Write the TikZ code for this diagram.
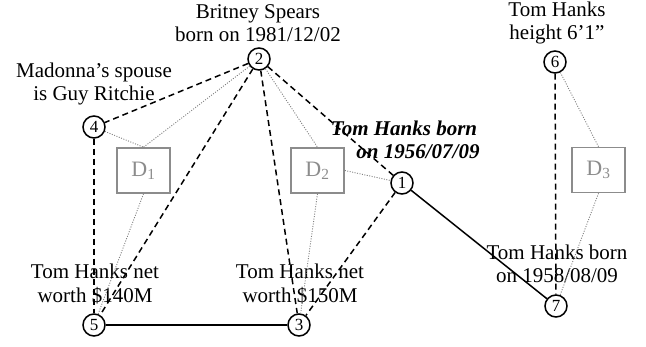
\documentclass[tikz,border=0pt]{standalone}
\usepackage{fontspec}
\setmainfont{Liberation Serif}
\begin{document}
\begin{tikzpicture}[x=1pt,y=-1pt,
  vnode/.style={circle,draw=black,line width=1.5pt,minimum size=22pt,inner sep=0pt,font=\fontsize{17}{17}\selectfont,fill=white},
  dbox/.style={draw=black!45,line width=1.6pt,minimum width=53pt,minimum height=45pt,inner sep=0pt,text=black!45,font=\fontsize{22}{22}\selectfont},
  lbl/.style={align=center,inner sep=0pt,font=\fontsize{21}{23.5}\selectfont},
  dashe/.style={line width=1.5pt,dash pattern=on 6pt off 4pt},
  sol/.style={line width=1.5pt},
  dott/.style={draw=black!50,line width=0.9pt,dash pattern=on 1pt off 1.5pt}]
\useasboundingbox (0,0) rectangle (646,347);
% labels
\node[lbl] (l2) at (258,23) {Britney Spears\\born on 1981/12/02};
\node[lbl] (l4) at (94,84) {Madonna’s spouse\\is Guy Ritchie};
\node[lbl] (l6) at (557,23) {Tom Hanks\\height 6’1”};
\node[lbl,font=\fontsize{21}{23.5}\selectfont\bfseries\itshape] (l1a) at (404,128) {Tom Hanks born};
\node[lbl,font=\fontsize{21}{23.5}\selectfont\bfseries\itshape] (l1b) at (418,152) {on 1956/07/09};
\node[lbl] (l5) at (95,284) {Tom Hanks net\\worth \$140M};
\node[lbl] (l3) at (300,284) {Tom Hanks net\\worth \$150M};
\node[lbl] (l7) at (557,264) {Tom Hanks born\\on 1958/08/09};
% boxes
\node[dbox] (D1) at (143.5,170.5) {D\textsubscript{1}};
\node[dbox] (D2) at (317.5,170.5) {D\textsubscript{2}};
\node[dbox] (D3) at (598.5,170) {D\textsubscript{3}};
% vertices
\node[vnode] (n1) at (402,183) {1};
\node[vnode] (n2) at (259,59) {2};
\node[vnode] (n3) at (299,325) {3};
\node[vnode] (n4) at (94,127) {4};
\node[vnode] (n5) at (94,325) {5};
\node[vnode] (n6) at (555,62) {6};
\node[vnode] (n7) at (556,306) {7};
% edges
\draw[dott] (n4) -- (D1.north);
\draw[dott] (n2) -- (D1.north);
\draw[dott] (D1.south) -- (n5);
\draw[dott] (n2) -- (D2.north);
\draw[dott] (D2.east) -- (n1);
\draw[dott] (D2.south) -- (n3);
\draw[dott] (n6) -- (D3.north);
\draw[dott] (D3.south) -- (n7);
\draw[dashe] (n2) -- (n4);
\draw[dashe] (n2) -- (n5);
\draw[dashe] (n2) -- (n3);
\draw[dashe] (n2) -- (n1);
\draw[dashe] (n4) -- (n5);
\draw[dashe] (n1) -- (n3);
\draw[dashe] (n6) -- (n7);
\draw[sol] (n5) -- (n3);
\draw[sol] (n1) -- (n7);
\end{tikzpicture}
\end{document}
